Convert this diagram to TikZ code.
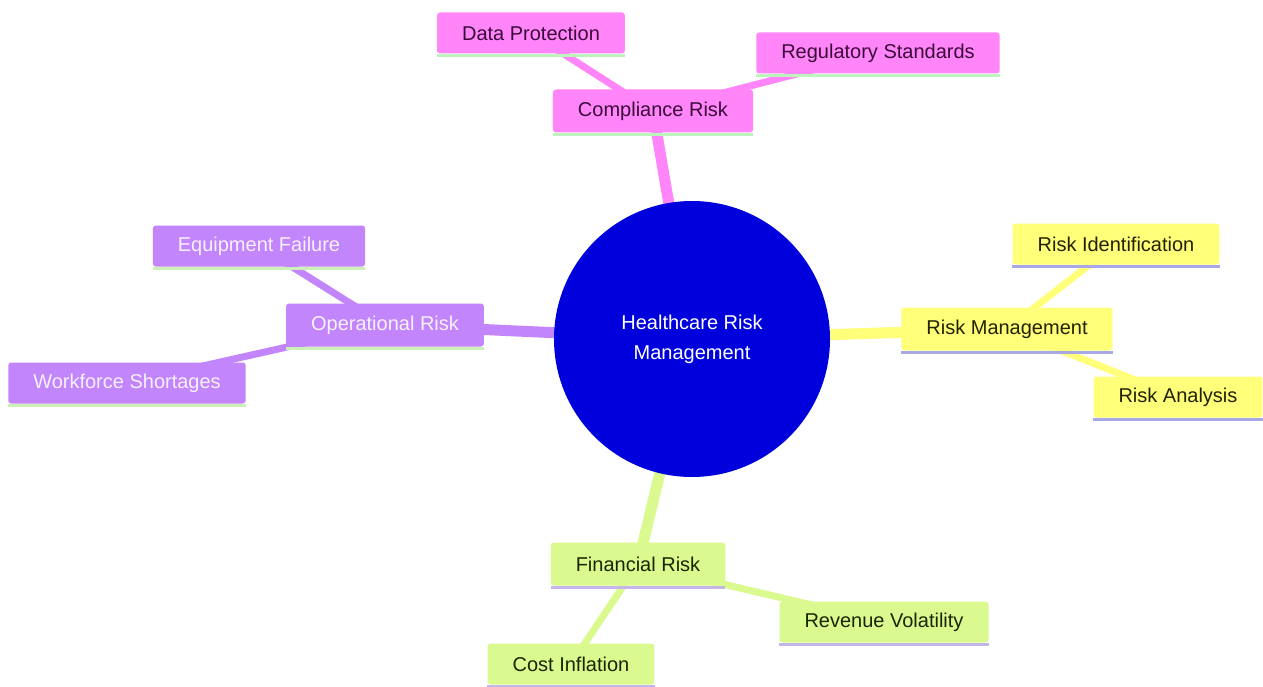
\documentclass[tikz,border=0pt]{standalone}
\usepackage{fontspec}
\setmainfont{Liberation Sans}
\usetikzlibrary{backgrounds}
\definecolor{pinkc}{HTML}{FF85F8}
\definecolor{pinktxt}{HTML}{3A0A3A}
\definecolor{pinkul}{HTML}{BDF3BD}
\definecolor{yelc}{HTML}{FFFF7A}
\definecolor{yeltxt}{HTML}{222200}
\definecolor{yelul}{HTML}{A8A8E6}
\definecolor{purc}{HTML}{C285FC}
\definecolor{purtxt}{HTML}{F6F0FF}
\definecolor{purul}{HTML}{CDEFB8}
\definecolor{grnc}{HTML}{DAF98F}
\definecolor{grntxt}{HTML}{1A2600}
\definecolor{grnul}{HTML}{C4B6E8}
\definecolor{rootc}{HTML}{0000DC}
\tikzset{
  x=1pt, y=-1pt,
  basebox/.style={rounded corners=3pt, inner xsep=25pt, inner ysep=0pt,
    minimum height=41pt, font=\fontsize{20}{24}\selectfont},
  ul/.style={append after command={([yshift=-1.5pt]\tikzlastnode.south west) edge[draw=#1, line width=3pt] ([yshift=-1.5pt]\tikzlastnode.south east)}},
  pinkbox/.style={basebox, fill=pinkc, text=pinktxt, ul=pinkul},
  yelbox/.style={basebox, fill=yelc, text=yeltxt, ul=yelul},
  purbox/.style={basebox, fill=purc, text=purtxt, ul=purul},
  grnbox/.style={basebox, fill=grnc, text=grntxt, ul=grnul},
  secbox/.style={minimum height=43pt},
  mainedge/.style={line width=11pt, draw=#1},
  leafedge/.style={line width=7pt, draw=#1},
}
\begin{document}
\begin{tikzpicture}
\useasboundingbox (0,0) rectangle (1263,687);
% root
\node[circle, fill=rootc, minimum size=276pt, text=white, align=center,
  font=\fontsize{20}{30}\selectfont] (root) at (692,339) {Healthcare Risk\\Management};
% compliance
\node[pinkbox, secbox] (comp) at (653,111) {Compliance Risk};
\node[pinkbox] (dp) at (531,33) {Data Protection};
\node[pinkbox] (reg) at (878,53) {Regulatory Standards};
% risk management
\node[yelbox, secbox] (rm) at (1007,329) {Risk Management};
\node[yelbox] (rid) at (1116,244) {Risk Identification};
\node[yelbox] (ra) at (1178,397) {Risk Analysis};
% operational
\node[purbox, secbox] (op) at (385,325) {Operational Risk};
\node[purbox] (eq) at (259,246) {Equipment Failure};
\node[purbox] (wf) at (127,383) {Workforce Shortages};
% financial
\node[grnbox, secbox] (fin) at (638,564) {Financial Risk};
\node[grnbox] (rev) at (884,622) {Revenue Volatility};
\node[grnbox] (cost) at (571,664) {Cost Inflation};
\begin{scope}[on background layer]
\fill[white] (0,0) rectangle (1263,687);
\draw[mainedge=pinkc] (root.center) -- (comp.center);
\draw[leafedge=pinkc] (comp.center) -- (dp.center);
\draw[leafedge=pinkc] (comp.center) -- (reg.center);
\draw[mainedge=yelc] (root.center) -- (rm.center);
\draw[leafedge=yelc] (rm.center) -- (rid.center);
\draw[leafedge=yelc] (rm.center) -- (ra.center);
\draw[mainedge=purc] (root.center) -- (op.center);
\draw[leafedge=purc] (op.center) -- (eq.center);
\draw[leafedge=purc] (op.center) -- (wf.center);
\draw[mainedge=grnc] (root.center) -- (fin.center);
\draw[leafedge=grnc] (fin.center) -- (rev.center);
\draw[leafedge=grnc] (fin.center) -- (cost.center);
\end{scope}
\end{tikzpicture}
\end{document}
